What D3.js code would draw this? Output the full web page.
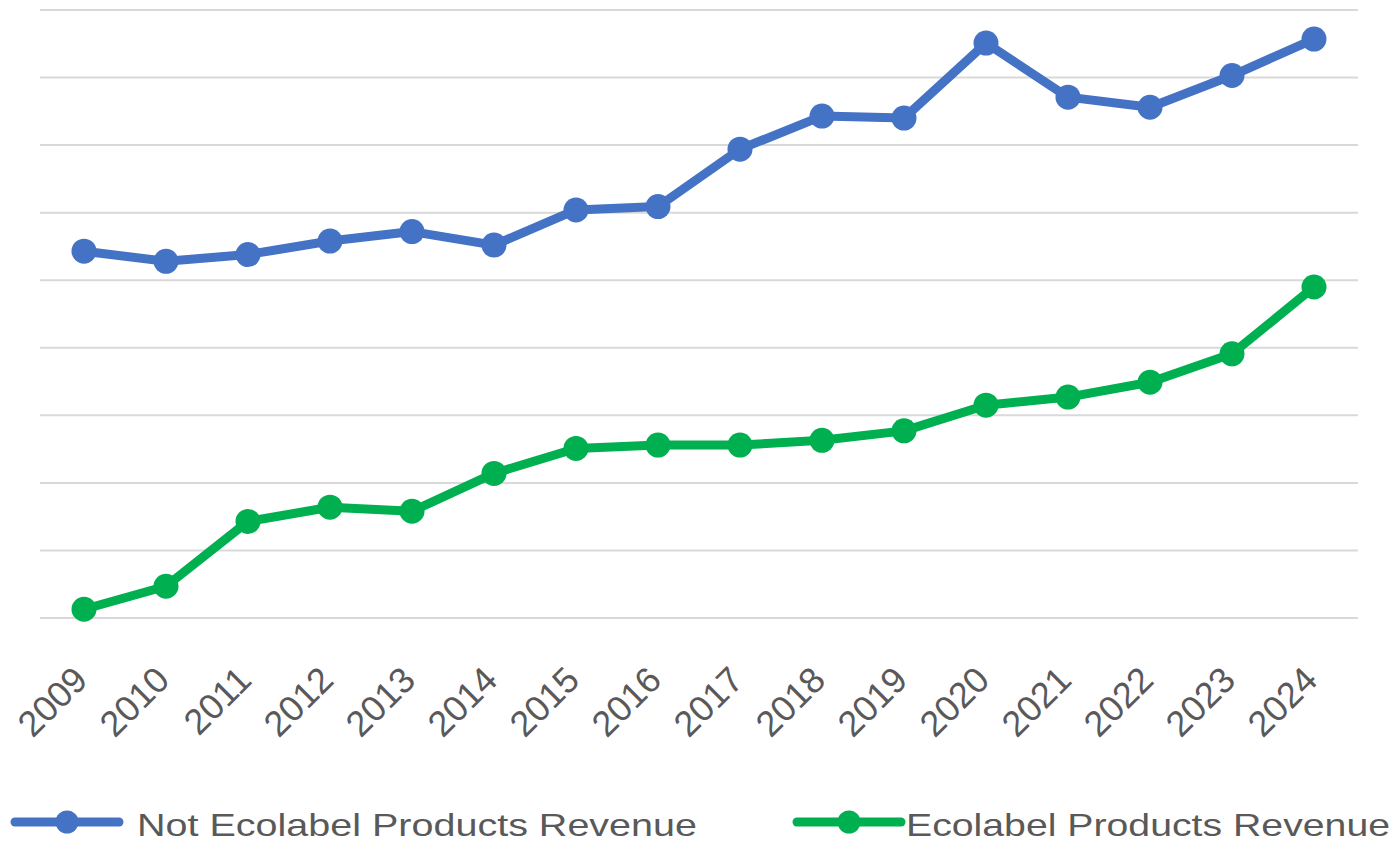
<!DOCTYPE html>
<html>
<head>
<meta charset="utf-8">
<script src="https://cdn.jsdelivr.net/npm/d3@7"></script>
<style>
  body { margin: 0; background: #fff; }
  text { font-family: "Liberation Sans", Arial, sans-serif; fill: #595959; }
</style>
</head>
<body>
<div id="chart"></div>
<script>
// data (no y axis labels shown, values in gridline units)
var years = ["2009","2010","2011","2012","2013","2014","2015","2016",
             "2017","2018","2019","2020","2021","2022","2023","2024"];
var notEcolabel = [5.43, 5.28, 5.38, 5.58, 5.72, 5.52, 6.04, 6.09,
                   6.94, 7.43, 7.40, 8.51, 7.71, 7.56, 8.03, 8.57];
var ecolabel = [0.13, 0.47, 1.43, 1.64, 1.58, 2.14, 2.51, 2.56,
                2.56, 2.63, 2.77, 3.15, 3.27, 3.49, 3.91, 4.90];
var gridTicks = [0, 1, 2, 3, 4, 5, 6, 7, 8, 9];

var seriesList = [
  {name: "Not Ecolabel Products Revenue", values: notEcolabel, color: "#4472C4"},
  {name: "Ecolabel Products Revenue", values: ecolabel, color: "#00B050"}
];

var W = 1396, H = 843;
var plotLeft = 40, plotRight = 1358, plotTop = 10, plotBottom = 618;

var svg = d3.select("#chart").append("svg")
  .attr("width", W)
  .attr("height", H);

var x = d3.scalePoint()
  .domain(years)
  .range([plotLeft + 3, plotRight - 3])
  .padding(0.5);

var y = d3.scaleLinear()
  .domain([0, 9])
  .range([plotBottom, plotTop]);

// gridlines
svg.append("g")
  .selectAll("line")
  .data(gridTicks)
  .enter()
  .append("line")
    .attr("x1", plotLeft)
    .attr("x2", plotRight)
    .attr("y1", function(d) { return y(d); })
    .attr("y2", function(d) { return y(d); })
    .attr("stroke", "#d9d9d9")
    .attr("stroke-width", 2);

// x axis labels, rotated
var xAxis = svg.append("g")
  .attr("transform", "translate(0," + plotBottom + ")")
  .call(d3.axisBottom(x).tickSize(0).tickPadding(0));
xAxis.select(".domain").remove();
xAxis.selectAll("text")
  .attr("dy", null)
  .attr("y", 0)
  .attr("transform", "translate(5,64) rotate(-45)")
  .style("text-anchor", "end")
  .style("font-family", "'Liberation Sans', Arial, sans-serif")
  .style("font-size", "36px")
  .style("fill", "#595959");

// lines + points
var line = d3.line()
  .x(function(d, i) { return x(years[i]); })
  .y(function(d) { return y(d); });

seriesList.forEach(function(s) {
  svg.append("path")
    .datum(s.values)
    .attr("fill", "none")
    .attr("stroke", s.color)
    .attr("stroke-width", 9)
    .attr("stroke-linejoin", "round")
    .attr("d", line);

  svg.append("g")
    .selectAll("circle")
    .data(s.values)
    .enter()
    .append("circle")
      .attr("cx", function(d, i) { return x(years[i]); })
      .attr("cy", function(d) { return y(d); })
      .attr("r", 12.5)
      .attr("fill", s.color);
});

// legend
var legendItems = [
  {x: 15, textX: 137, width: 560},
  {x: 797, textX: 906, width: 484}
];
var legend = svg.append("g");
seriesList.forEach(function(s, i) {
  var it = legendItems[i];
  var g = legend.append("g").attr("transform", "translate(" + it.x + ",822)");
  g.append("line")
    .attr("x1", 0).attr("x2", 104)
    .attr("stroke", s.color)
    .attr("stroke-width", 9)
    .attr("stroke-linecap", "round");
  g.append("circle")
    .attr("cx", 52)
    .attr("r", 11.5)
    .attr("fill", s.color);
  legend.append("text")
    .attr("x", it.textX)
    .attr("y", 836)
    .attr("textLength", it.width)
    .attr("lengthAdjust", "spacingAndGlyphs")
    .style("font-size", "32px")
    .text(s.name);
});
</script>
</body>
</html>
